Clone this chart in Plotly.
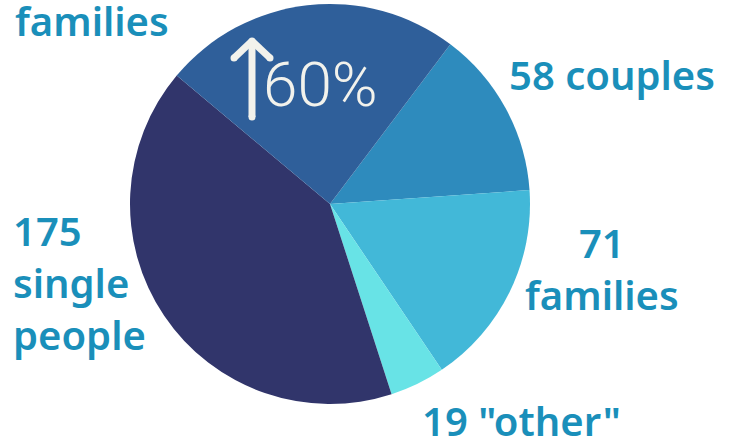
import plotly.graph_objects as go

labels = ["couples", "families", "\"other\"", "single people", "single parent families"]
values = [58, 71, 19, 175, 103]
colors = ["#2E8BBD", "#42B8D8", "#68E3E6", "#31356B", "#2F5F9A"]
label_texts = ["58 couples", "71<br>families", "19 \"other\"", "175<br>single<br>people", "103 single parent<br>families"]
callout_text = "60%"

W, H = 736, 441

fig = go.Figure(go.Pie(
    labels=labels, values=values, sort=False, direction="clockwise", rotation=37,
    marker=dict(colors=colors, line=dict(width=0)),
    textinfo="none", hoverinfo="skip", showlegend=False,
    domain=dict(x=[130 / W, 530 / W], y=[1 - 405 / H, 1 - 3 / H]),
))

font = dict(family="Noto Sans", size=40, color="#1A8FBA", weight=600)


def px(x, y):
    return x / W, 1 - y / H


ann = []
placements = [
    (0, 612, 74, "center", "center", "middle"),
    (1, 602, 268, "center", "center", "middle"),
    (2, 521, 420, "center", "center", "middle"),
    (3, 11, 282, "left", "left", "middle"),
    (4, 13, 50, "left", "left", "bottom"),
]
for i, x, y, xa, al, ya in placements:
    ax, ay = px(x, y)
    ann.append(dict(text=label_texts[i], x=ax, y=ay, xref="paper", yref="paper",
                    xanchor=xa, yanchor=ya, align=al, showarrow=False, font=font))

ax, ay = px(320, 84)
ann.append(dict(text=callout_text, x=ax, y=ay, xref="paper", yref="paper", showarrow=False,
                xanchor="center", yanchor="middle",
                font=dict(family="Roboto", size=62, color="#F2F2EC", weight=300)))

# up arrow drawn as lines (decoration)
arrow_col = "#F2F2EC"
shapes = []
for (x0, y0, x1, y1) in [(252, 41, 252, 117), (252, 41, 234, 58), (252, 41, 270, 58)]:
    a0, b0 = px(x0, y0)
    a1, b1 = px(x1, y1)
    shapes.append(dict(type="line", xref="paper", yref="paper", x0=a0, y0=b0, x1=a1, y1=b1,
                       line=dict(color=arrow_col, width=7)))
for (cx, cy) in [(252, 117), (234, 58), (270, 58), (252, 41)]:
    a0, b0 = px(cx - 3.5, cy - 3.5)
    a1, b1 = px(cx + 3.5, cy + 3.5)
    shapes.append(dict(type="circle", xref="paper", yref="paper", x0=a0, y0=b0, x1=a1, y1=b1,
                       fillcolor=arrow_col, line=dict(width=0)))

fig.update_layout(
    width=W, height=H, margin=dict(l=0, r=0, t=0, b=0),
    paper_bgcolor="white", plot_bgcolor="white", annotations=ann, shapes=shapes,
)

fig.write_html("out.html", config={"displayModeBar": False},
               post_script="document.body.style.margin='0';")
